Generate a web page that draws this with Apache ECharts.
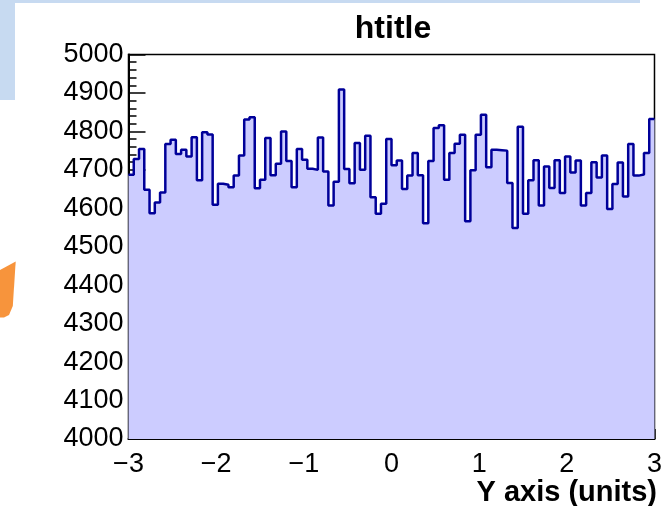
<!DOCTYPE html>
<html>
<head>
<meta charset="utf-8">
<script src="https://cdn.jsdelivr.net/npm/echarts@6/dist/echarts.min.js"></script>
<style>
  html, body { margin: 0; padding: 0; background: #ffffff; }
  #chart { width: 665px; height: 506px; }
</style>
</head>
<body>
<div id="chart"></div>
<script>
// Histogram "htitle": 100 equal bins between -3 and 3
const histTitle = 'htitle';
const xAxisTitle = 'Y axis (units)';
const binLow = -3;
const binHigh = 3;
const binCounts = [
  4687, 4728, 4754, 4648, 4587, 4615, 4641, 4767, 4778, 4741,
  4752, 4735, 4785, 4673, 4798, 4792, 4609, 4664, 4661, 4655,
  4685, 4737, 4831, 4837, 4652, 4674, 4783, 4686, 4716, 4800,
  4723, 4655, 4754, 4726, 4703, 4700, 4784, 4696, 4607, 4669,
  4909, 4702, 4665, 4770, 4700, 4789, 4629, 4586, 4612, 4780,
  4712, 4724, 4650, 4685, 4744, 4686, 4561, 4723, 4809, 4816,
  4674, 4744, 4768, 4791, 4566, 4699, 4791, 4843, 4707, 4752,
  4751, 4750, 4666, 4549, 4812, 4586, 4673, 4725, 4607, 4709,
  4653, 4725, 4640, 4735, 4693, 4724, 4607, 4640, 4720, 4680,
  4737, 4598, 4663, 4719, 4631, 4767, 4685, 4688, 4744, 4832
];
const yMin = 4000;
const yMax = 5000;
const yStep = 100;
const xStep = 1;

// Step outline: one point at each bin's low edge, plus the closing upper edge
const binWidth = (binHigh - binLow) / binCounts.length;
const stepData = binCounts.map((c, i) => [binLow + i * binWidth, c]);
stepData.push([binHigh, binCounts[binCounts.length - 1]]);

const FONT = '"Liberation Sans", Arial, Helvetica, sans-serif';
const chart = echarts.init(document.getElementById('chart'), null, { renderer: 'canvas' });

chart.setOption({
  animation: false,
  backgroundColor: '#ffffff',
  graphic: [
    // slide decorations behind the canvas
    { type: 'rect', z: -20, shape: { x: 0, y: 0, width: 640, height: 100 }, style: { fill: '#c7daf1' } },
    { type: 'rect', z: -19, shape: { x: 15, y: 3, width: 650, height: 503 }, style: { fill: '#ffffff' } },
    { type: 'polygon', z: -18,
      shape: { points: [[0, 270], [15.7, 261.5], [12.8, 306], [9, 315], [4, 317.5], [0, 317.5]] },
      style: { fill: '#f7943c' } },
    // histogram title, centred over the frame
    { type: 'text', z: 10,
      style: { x: 393, y: 13, text: histTitle, font: 'bold 32px ' + FONT, fill: '#000000',
               align: 'center', verticalAlign: 'top' } },
    // x-axis title, right aligned to the frame
    { type: 'text', z: 10,
      style: { x: 657, y: 478, text: xAxisTitle, font: 'bold 29px ' + FONT, fill: '#000000',
               align: 'right', verticalAlign: 'top' } }
  ],
  grid: {
    left: 128.5, right: 8, top: 54.5, bottom: 67,
    show: true, borderColor: '#000000', borderWidth: 1.5,
    backgroundColor: 'transparent'
  },
  xAxis: {
    type: 'value', min: binLow, max: binHigh, interval: xStep,
    axisLine: { show: true, onZero: false, lineStyle: { color: '#000000', width: 2 } },
    axisTick: { show: true, inside: true, length: 10, lineStyle: { color: '#000000', width: 1.5 } },
    minorTick: { show: true, splitNumber: 5, length: 5, lineStyle: { color: '#000000', width: 1.5 } },
    splitLine: { show: false },
    axisLabel: {
      show: true, margin: 12, color: '#000000', fontSize: 27, fontFamily: FONT,
      formatter: v => String(v).replace('-', '\u2212')
    }
  },
  yAxis: {
    type: 'value', min: yMin, max: yMax, interval: yStep,
    axisLine: { show: true, onZero: false, lineStyle: { color: '#000000', width: 2 } },
    axisTick: { show: true, inside: true, length: 17, lineStyle: { color: '#000000', width: 1.5 } },
    minorTick: { show: true, splitNumber: 5, length: 8, lineStyle: { color: '#000000', width: 1.5 } },
    splitLine: { show: false },
    axisLabel: { show: true, margin: 5, color: '#000000', fontSize: 27, fontFamily: FONT,
                 formatter: v => String(v) }
  },
  series: [{
    type: 'line',
    step: 'end',
    data: stepData,
    showSymbol: false,
    symbol: 'none',
    clip: true,
    z: 1,
    lineStyle: { color: '#000099', width: 2.5 },
    areaStyle: { color: '#ccccff', opacity: 1, origin: 'start' }
  }]
});
</script>
</body>
</html>
